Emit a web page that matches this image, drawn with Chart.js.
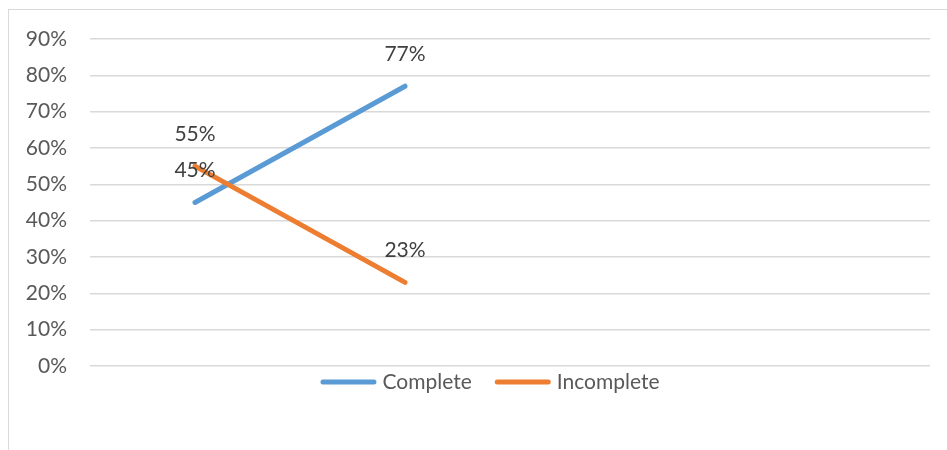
<!DOCTYPE html>
<html>
<head>
<meta charset="utf-8">
<script src="https://cdn.jsdelivr.net/npm/chart.js@4.4.1/dist/chart.umd.min.js"></script>
<style>
  html, body { margin: 0; padding: 0; background: #fff; overflow: hidden; }
  #wrap { position: relative; width: 947px; height: 450px; }
  #frame { position: absolute; left: 8px; top: 9px; width: 960px; height: 460px; border: 1px solid #d9d9d9; box-sizing: border-box; }
  #c { position: absolute; left: 0; top: 0; }
</style>
</head>
<body>
<div id="wrap">
  <div id="frame"></div>
  <canvas id="c" width="947" height="450"></canvas>
</div>
<script>
const categories = ["", "", "", ""];
const completeValues = [0.45, 0.77, null, null];
const incompleteValues = [0.55, 0.23, null, null];
const yTickValues = [0, 0.1, 0.2, 0.3, 0.4, 0.5, 0.6, 0.7, 0.8, 0.9];

const FONT = "Lato, 'Open Sans', sans-serif";
const FS = 21;

const labelPlugin = {
  id: 'pointLabels',
  afterDatasetsDraw(chart) {
    const ctx = chart.ctx;
    ctx.save();
    ctx.font = FS + "px " + FONT;
    ctx.fillStyle = '#404040';
    ctx.textAlign = 'center';
    ctx.textBaseline = 'middle';
    chart.data.datasets.forEach((ds, i) => {
      const meta = chart.getDatasetMeta(i);
      meta.data.forEach((pt, j) => {
        const v = ds.data[j];
        if (v === null || v === undefined) return;
        ctx.fillText(Math.round(v * 100) + '%', pt.x, pt.y - 32);
      });
    });
    ctx.restore();
  }
};

// legend drawn from the chart's own datasets (labels + colours)
const legendPlugin = {
  id: 'lineLegend',
  afterDraw(chart) {
    const ctx = chart.ctx;
    const LINE = 51, CAP = 2.5, GAP = 6, ITEM_GAP = 23;
    const centerX = 490, y = 382;
    ctx.save();
    ctx.font = FS + "px " + FONT;
    const items = chart.data.datasets.map(ds => ({
      label: ds.label, color: ds.borderColor, w: ctx.measureText(ds.label).width
    }));
    const total = items.reduce((s, it) => s + LINE + 2 * CAP + GAP + it.w, 0) + ITEM_GAP * (items.length - 1);
    let x = centerX - total / 2;
    items.forEach(it => {
      ctx.strokeStyle = it.color;
      ctx.lineWidth = 5;
      ctx.lineCap = 'round';
      ctx.beginPath();
      ctx.moveTo(x + CAP, y);
      ctx.lineTo(x + CAP + LINE, y);
      ctx.stroke();
      x += LINE + 2 * CAP + GAP;
      ctx.fillStyle = '#595959';
      ctx.textAlign = 'left';
      ctx.textBaseline = 'middle';
      ctx.fillText(it.label, x, y);
      x += it.w + ITEM_GAP;
    });
    ctx.restore();
  }
};

const fitPlugin = {
  id: 'fitArea',
  afterLayout(chart) {
    const ca = chart.chartArea;
    const p = chart.options.layout.padding;
    let changed = false;
    if (Math.abs(ca.right - 930) > 0.5) { p.right += ca.right - 930; changed = true; }
    if (Math.abs(ca.top - 39) > 0.5) { p.top += 39 - ca.top; changed = true; }
    if (Math.abs(ca.bottom - 366) > 0.5) { p.bottom += ca.bottom - 366; changed = true; }
    if (changed && !chart._fitting) {
      chart._fitting = true;
      chart.update();
      chart._fitting = false;
    }
  }
};

new Chart(document.getElementById('c'), {
  type: 'line',
  data: {
    labels: categories,
    datasets: [
      { label: 'Complete', data: completeValues, borderColor: '#5B9BD5', backgroundColor: '#5B9BD5', borderWidth: 5, pointRadius: 0, borderCapStyle: 'round', tension: 0, order: 2 },
      { label: 'Incomplete', data: incompleteValues, borderColor: '#ED7D31', backgroundColor: '#ED7D31', borderWidth: 5, pointRadius: 0, borderCapStyle: 'round', tension: 0, order: 1 }
    ]
  },
  options: {
    responsive: false,
    animation: false,
    layout: { padding: { left: 8, right: 0, top: 40, bottom: 84 } },
    plugins: {
      legend: { display: false },
      tooltip: { enabled: false }
    },
    scales: {
      x: {
        display: false,
        offset: true
      },
      y: {
        min: 0, max: 0.9,
        afterBuildTicks(scale) { scale.ticks = yTickValues.map(v => ({ value: v })); },
        afterFit(scale) { scale.width = 82; },
        grid: { color: '#d9d9d9', lineWidth: 1.5, drawTicks: false },
        border: { display: false },
        ticks: {
          padding: 23,
          color: '#595959',
          font: { size: FS, family: FONT },
          callback: v => Math.round(v * 100) + '%'
        }
      }
    }
  },
  plugins: [labelPlugin, legendPlugin, fitPlugin]
});
</script>
</body>
</html>
